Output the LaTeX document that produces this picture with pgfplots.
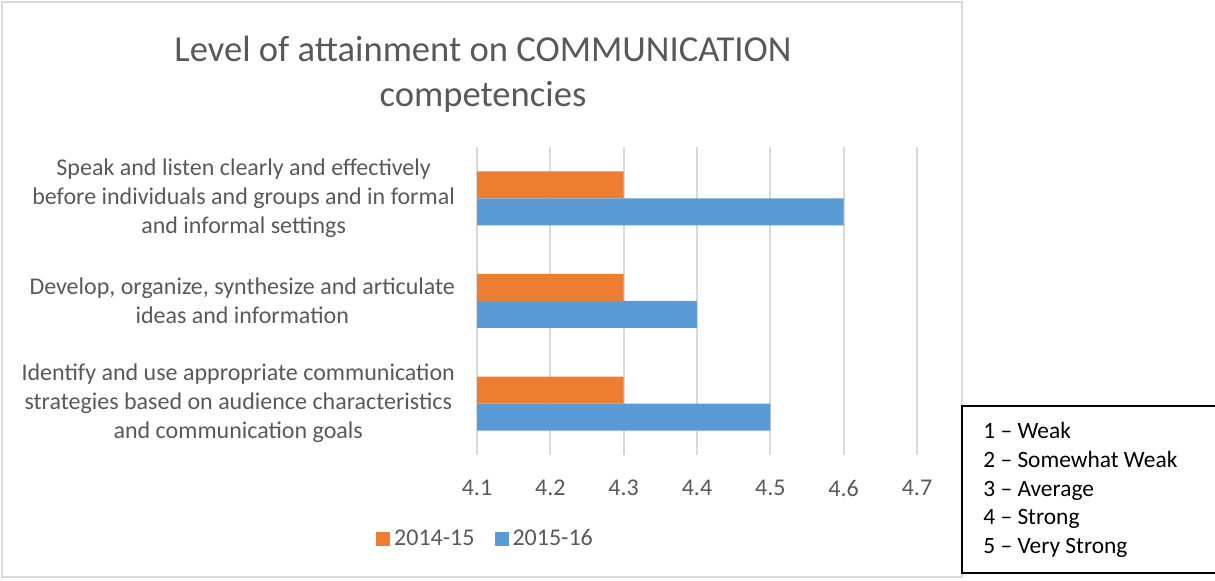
\documentclass[border=0pt]{standalone}
\usepackage{fontspec}
\setmainfont{Carlito}
\usepackage{pgfplots}
\pgfplotsset{compat=1.18}
\definecolor{txtgrey}{HTML}{595959}
\definecolor{gridgrey}{HTML}{D9D9D9}
\definecolor{xlorange}{HTML}{ED7D31}
\definecolor{xlblue}{HTML}{5B9BD5}
\begin{document}
\begin{tikzpicture}
\useasboundingbox (0,0) rectangle (607.5pt,290.5pt);
% chart outer border
\draw[gridgrey, line width=1pt] (1pt,2pt) rectangle (481pt,289.5pt);
\begin{axis}[
  at={(238.5pt,63pt)}, anchor=south west,
  width=220pt, height=154pt, scale only axis,
  xmin=4.1, xmax=4.7, ymin=-0.5, ymax=2.5,
  xtick={4.1,4.2,4.3,4.4,4.5,4.6,4.7},
  xticklabels={4.1,4.2,4.3,4.4,4.5,4.6,4.7},
  ytick={0,1,2},
  yticklabels={{Identify and use appropriate communication\\strategies based on audience characteristics\\and communication goals},
               {Develop, organize, synthesize and articulate\\ideas and information},
               {Speak and listen clearly and effectively\\before individuals and groups and in formal\\and informal settings}},
  axis line style={draw=none},
  major tick length=0pt,
  xmajorgrids,
  major grid style={draw=gridgrey, line width=1.1pt},
  xticklabel style={font=\fontsize{12}{14.5}\selectfont, text=txtgrey, yshift=-9pt},
  yticklabel style={font=\fontsize{12}{14.5}\selectfont, text=txtgrey, align=center, xshift=-7.5pt},
  /pgf/bar width=13.5pt,
  title={Level of attainment on COMMUNICATION\\competencies},
  title style={at={(0.0136,1.198)}, anchor=center, align=center,
               font=\fontsize{18.3}{22.5}\selectfont, text=txtgrey},
  legend style={at={(0.0216,-0.2727)}, anchor=center, draw=none,
                legend columns=2, font=\fontsize{12}{14.5}\selectfont, text=txtgrey,
                /tikz/every even column/.append style={column sep=8pt}},
  legend image code/.code={\fill[#1] (0pt,-3.5pt) rectangle (7pt,3.5pt);},
]
\addplot[xbar, bar shift=6.75pt, fill=xlorange, draw=none] coordinates {(4.3,0) (4.3,1) (4.3,2)};
\addlegendentry{2014-15}
\addplot[xbar, bar shift=-6.75pt, fill=xlblue, draw=none] coordinates {(4.5,0) (4.4,1) (4.6,2)};
\addlegendentry{2015-16}
\end{axis}
% scale legend box
\draw[black, line width=1pt] (609pt,87.5pt) -- (481pt,87.5pt) -- (481pt,4pt) -- (609pt,4pt);
\node[anchor=west, align=left, inner sep=0pt, font=\fontsize{11.7}{14.3}\selectfont, text=black] at (491.5pt,45.5pt)
  {1 -- Weak\\2 -- Somewhat Weak\\3 -- Average\\4 -- Strong\\5 -- Very Strong};
\end{tikzpicture}
\end{document}
